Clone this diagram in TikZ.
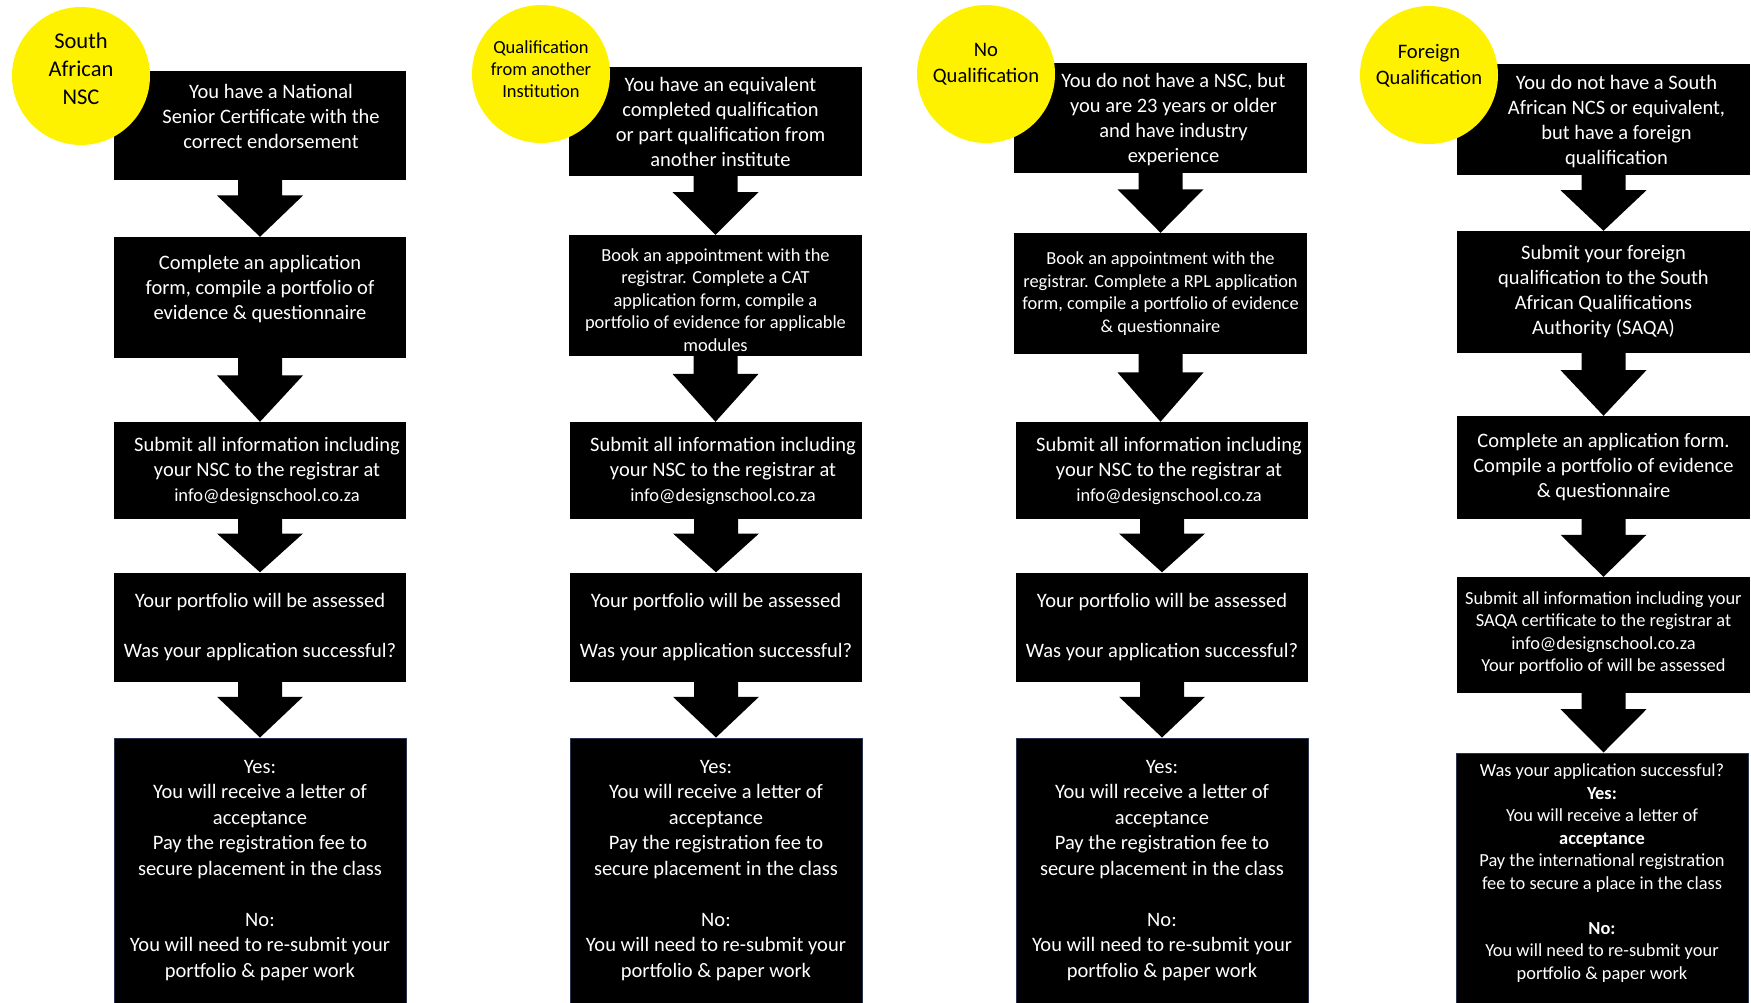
\documentclass[tikz,border=0pt]{standalone}
\usepackage{fontspec}
\setmainfont{Carlito}
\usetikzlibrary{calc}

\definecolor{qualyellow}{RGB}{255,242,0}
\definecolor{boxedge}{RGB}{40,52,80}

\newcommand{\mainsize}{\fontsize{20.5}{25}\selectfont}
\newcommand{\smallsize}{\fontsize{18.4}{22.5}\selectfont}
\newcommand{\mailaddr}{{\fontsize{18.5}{22}\selectfont info@designschool.co.za}}
\newcommand{\submitnsc}{Submit all information including\\your NSC to the registrar at\\\mailaddr}
\newcommand{\assessed}{Your portfolio will be assessed\\[25pt]Was your application successful?}
\newcommand{\outcome}{Yes:\\You will receive a letter of\\acceptance\\Pay the registration fee to\\secure placement in the class\\[25.5pt]No:\\You will need to re-submit your\\portfolio \& paper work}

\begin{document}
\begin{tikzpicture}[x=1pt,y=-1pt]
    \tikzstyle{box}=[fill=black,inner sep=0pt]
    \tikzstyle{endbox}=[box,draw=boxedge,line width=1pt]
    \tikzstyle{boxtext}=[text=white,align=center,inner sep=0pt,font=\mainsize]
    \tikzstyle{smalltext}=[boxtext,font=\smallsize]
    \tikzstyle{endtext}=[boxtext,font=\fontsize{20.5}{25.5}\selectfont]
    \tikzstyle{qual}=[circle,fill=qualyellow,inner sep=0pt,minimum size=138pt]
    \tikzstyle{qualtext}=[text=black,align=center,inner sep=0pt]
    \useasboundingbox (0,0) rectangle (1751,1003);

    % South African NSC
    \node[box,minimum width=292pt,minimum height=109pt] (B-1-1) at (260,125.5) {};
    \node[boxtext] (T-1-1) at ([xshift=11pt,yshift=9pt]B-1-1.center)
        {You have a National\\Senior Certificate with the\\correct endorsement};
    \node[box,minimum width=292pt,minimum height=121pt] (B-1-2) at (260,297.5) {};
    \node[boxtext] (T-1-2) at ([yshift=8pt]B-1-2.center)
        {Complete an application\\form, compile a portfolio of\\evidence \& questionnaire};

    % Qualification from another institution
    \node[box,minimum width=293pt,minimum height=109pt] (B-2-1) at (715.5,121.5) {};
    \node[boxtext] (T-2-1) at ([xshift=5pt]B-2-1.center)
        {You have an equivalent\\completed qualification\\or part qualification from\\another institute};
    \node[box,minimum width=293pt,minimum height=121pt] (B-2-2) at (715.5,295.5) {};
    \node[smalltext] (T-2-2) at ([yshift=-4.5pt]B-2-2.center)
        {Book an appointment with the\\registrar. Complete a CAT\\application form, compile a\\portfolio of evidence for applicable\\modules};

    % No qualification
    \node[box,minimum width=293pt,minimum height=110pt] (B-3-1) at (1160.5,118) {};
    \node[boxtext] (T-3-1) at ([xshift=13pt,yshift=-1.5pt]B-3-1.center)
        {You do not have a NSC, but\\you are 23 years or older\\and have industry\\experience};
    \node[box,minimum width=293pt,minimum height=121pt] (B-3-2) at (1160.5,293.5) {};
    \node[smalltext] (T-3-2) at (B-3-2.center)
        {Book an appointment with the\\registrar. Complete a RPL application\\form, compile a portfolio of evidence\\\& questionnaire};

    \foreach \c/\x in {1/260, 2/716, 3/1162} {
        \node[box,minimum width=292pt,minimum height=97pt] (B-\c-3) at (\x,470.5) {};
        \node[boxtext] (T-\c-3) at ([xshift=7pt]B-\c-3.center) {\submitnsc};
        \node[box,minimum width=292pt,minimum height=109pt] (B-\c-4) at (\x,627) {};
        \node[boxtext] (T-\c-4) at (B-\c-4.center) {\assessed};
        \node[endbox,minimum width=292pt,minimum height=265pt] (B-\c-5) at (\x,870.5) {};
        \node[endtext] (T-\c-5) at (B-\c-5.center) {\outcome};
    }

    % Foreign qualification
    \node[box,minimum width=293pt,minimum height=111pt] (B-4-1) at (1603.5,119.5) {};
    \node[boxtext] (T-4-1) at ([xshift=13pt,yshift=-2pt]B-4-1.center)
        {You do not have a South\\African NCS or equivalent,\\but have a foreign\\qualification};
    \node[box,minimum width=293pt,minimum height=122pt] (B-4-2) at (1603.5,292) {};
    \node[boxtext] (T-4-2) at (B-4-2.center)
        {Submit your foreign\\qualification to the South\\African Qualifications\\Authority (SAQA)};
    \node[box,minimum width=293pt,minimum height=103pt] (B-4-3) at (1603.5,467.5) {};
    \node[boxtext] (T-4-3) at (B-4-3.center)
        {Complete an application form.\\Compile a portfolio of evidence\\\& questionnaire};
    \node[box,minimum width=293pt,minimum height=116pt] (B-4-4) at (1603.5,635) {};
    \node[smalltext] (T-4-4) at ([yshift=2pt]B-4-4.center)
        {Submit all information including your\\SAQA certificate to the registrar at\\info@designschool.co.za\\Your portfolio of will be assessed};
    \node[endbox,minimum width=292pt,minimum height=250pt] (B-4-5) at (1602,878) {};
    \node[smalltext] (T-4-5) at ([yshift=5pt]B-4-5.center)
        {Was your application successful?\\\textbf{Yes:}\\You will receive a letter of\\\textbf{acceptance}\\Pay the international registration\\fee to secure a place in the class\\[22.5pt]\textbf{No:}\\You will need to re-submit your\\portfolio \& paper work};

    % block arrows
    \foreach \c in {1,...,4}
        \foreach \r/\s in {1/2, 2/3, 3/4, 4/5}
            \fill let \p1=(B-\c-\r.south), \p2=(B-\c-\s.north),
                      \p3=($(B-\c-\r.south)!0.27!(B-\c-\s.north)$) in
                (\x1-22pt,\y1) -- (\x1+22pt,\y1) -- (\x1+22pt,\y3) -- (\x1+43pt,\y3)
                -- (\x1,\y2) -- (\x1-43pt,\y3) -- (\x1-22pt,\y3) -- cycle;

    % yellow circles
    \node[qual] (C-1) at (81,76) {};
    \node[qualtext,font=\fontsize{22.5}{28}\selectfont] (Q-1) at ([yshift=7pt]C-1.center) {South\\African\\NSC};
    \node[qual] (C-2) at (541,74) {};
    \node[qualtext,font=\fontsize{18.5}{22}\selectfont] (Q-2) at ([yshift=4.5pt]C-2.center) {Qualification\\from another\\Institution};
    \node[qual] (C-3) at (986,74) {};
    \node[qualtext,font=\fontsize{20.6}{26}\selectfont] (Q-3) at ([yshift=10pt]C-3.center) {No\\Qualification};
    \node[qual] (C-4) at (1429,75) {};
    \node[qualtext,font=\fontsize{20.6}{26}\selectfont] (Q-4) at ([yshift=9pt]C-4.center) {Foreign\\Qualification};
\end{tikzpicture}
\end{document}
